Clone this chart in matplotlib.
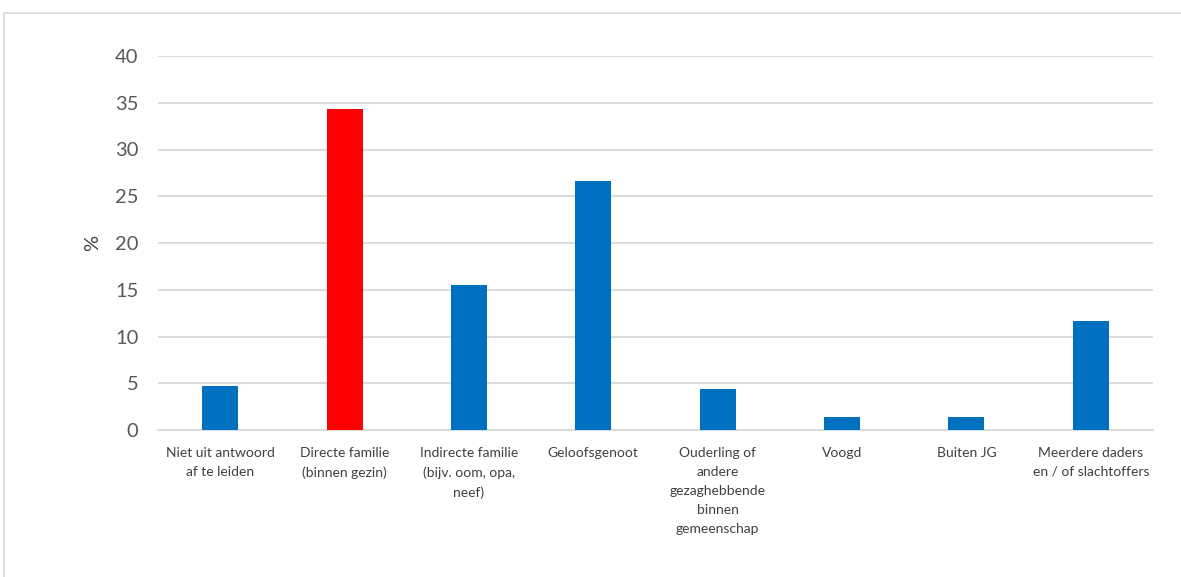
import matplotlib.pyplot as plt
from matplotlib.patches import Rectangle

categories = [
    "Niet uit antwoord\naf te leiden",
    "Directe familie\n(binnen gezin)",
    "Indirecte familie\n(bijv. oom, opa,\nneef)",
    "Geloofsgenoot",
    "Ouderling of\nandere\ngezaghebbende\nbinnen\ngemeenschap",
    "Voogd",
    "Buiten JG",
    "Meerdere daders\nen / of slachtoffers",
]
values = [4.7, 34.3, 15.5, 26.6, 4.4, 1.4, 1.4, 11.7]
colors = ["#0070c0", "#ff0000", "#0070c0", "#0070c0", "#0070c0", "#0070c0", "#0070c0", "#0070c0"]

plt.rcParams['font.family'] = ['Lato', 'DejaVu Sans']

fig = plt.figure(figsize=(11.81, 5.77), dpi=100)
ax = fig.add_axes([158 / 1181, 1 - 430 / 577, 995 / 1181, 374 / 577])

x = range(len(categories))
ax.bar(x, values, width=0.29, color=colors, zorder=3)

ax.set_xlim(-0.5, len(categories) - 0.5)
ax.set_ylim(0, 40)
ax.set_yticks(range(0, 41, 5))
ax.yaxis.grid(True, color="#d9d9d9", linewidth=1.3, zorder=0)
ax.set_xticks(list(x))
ax.set_xticklabels(categories, fontsize=10, color="#404040", linespacing=1.7)
ax.tick_params(axis="y", labelsize=14.5, labelcolor="#595959", length=0, pad=14)
ax.tick_params(axis="x", length=0, pad=12)
for s in ["top", "right", "left"]:
    ax.spines[s].set_visible(False)
ax.spines["bottom"].set_color("#d9d9d9")
ax.spines["bottom"].set_linewidth(1.3)
ax.set_ylabel("%", fontsize=14.5, color="#404040", labelpad=10)

# chart area border
fig.patches.append(Rectangle((4 / 1181, -0.05), 1.1, 1 - 13 / 577 + 0.05,
                             transform=fig.transFigure, fill=False,
                             edgecolor="#d9d9d9", linewidth=1.2))

fig.savefig("out.png", dpi=100)
